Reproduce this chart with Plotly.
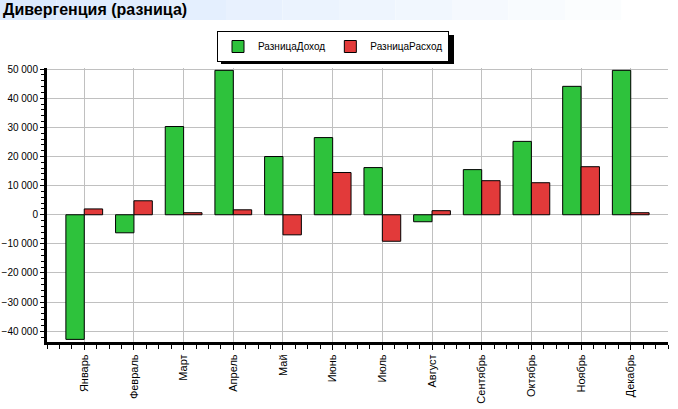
import plotly.graph_objects as go

months = ["Январь", "Февраль", "Март", "Апрель", "Май", "Июнь", "Июль",
          "Август", "Сентябрь", "Октябрь", "Ноябрь", "Декабрь"]
income_diff = [-42800, -6200, 30300, 49600, 20000, 26500, 16200, -2400, 15500, 25200, 44100, 49600]
expense_diff = [2000, 4800, 700, 1700, -6900, 14500, -9100, 1400, 11700, 11000, 16500, 700]
series_names = ["РазницаДоход", "РазницаРасход"]
title_text = "Дивергенция (разница)"

W, H = 678, 409
ML, MR, MT, MB = 47, 10, 68, 67
PW, PH = W - ML - MR, H - MT - MB

def px_x(p):
    return (p - ML) / PW

def px_y(p):
    return (H - MB - p) / PH

xs = list(range(len(months)))

fig = go.Figure()
fig.add_trace(go.Bar(x=xs, y=income_diff, name=series_names[0],
                     marker=dict(color="#2ec23c", line=dict(color="black", width=1))))
fig.add_trace(go.Bar(x=xs, y=expense_diff, name=series_names[1],
                     marker=dict(color="#e23a3a", line=dict(color="black", width=1))))

shapes = []
# title bar gradient (stepped)
steps = 12
c0 = (219, 234, 254)
c1 = (255, 255, 255)
for i in range(steps):
    t = i / (steps - 1)
    col = tuple(int(c0[k] + (c1[k] - c0[k]) * t) for k in range(3))
    shapes.append(dict(type="rect", xref="paper", yref="paper",
                       x0=px_x(W * i / steps), x1=px_x(W * (i + 1) / steps),
                       y0=px_y(20), y1=px_y(0), fillcolor="rgb(%d,%d,%d)" % col,
                       line=dict(width=0), layer="below"))
# legend shadow
shapes.append(dict(type="rect", xref="paper", yref="paper",
                   x0=px_x(221), x1=px_x(454), y0=px_y(64), y1=px_y(35),
                   fillcolor="black", line=dict(width=0), layer="below"))

fig.update_layout(
    width=W, height=H,
    margin=dict(l=ML, r=MR, t=MT, b=MB, autoexpand=False),
    paper_bgcolor="white", plot_bgcolor="white",
    separators=", ",
    barmode="group", bargap=0.26, bargroupgap=0,
    font=dict(family="Liberation Sans, Arial, sans-serif", size=11, color="black"),
    showlegend=True,
    legend=dict(orientation="h", x=px_x(333), xanchor="center", y=px_y(31), yanchor="top",
                bgcolor="white", bordercolor="black", borderwidth=1,
                font=dict(size=10), itemwidth=30, tracegroupgap=0),
    shapes=shapes,
    annotations=[dict(text="<b>" + title_text + "</b>", xref="paper", yref="paper",
                      x=px_x(1), y=px_y(10), xanchor="left", yanchor="middle",
                      showarrow=False, font=dict(size=16, color="black"))],
)
fig.update_xaxes(
    range=[-0.75, 11.75], tickmode="array", tickvals=xs, ticktext=months,
    tickangle=-90, showgrid=True, gridcolor="#c0c0c0", gridwidth=1,
    showline=True, linecolor="black", linewidth=3,
    ticks="outside", ticklen=5, tickcolor="black", tickwidth=1,
    minor=dict(tickmode="linear", tick0=0, dtick=0.25, ticks="outside", ticklen=4,
               tickcolor="black", showgrid=False),
    zeroline=False, fixedrange=True, automargin=False,
)
fig.update_yaxes(
    range=[-43700, 50400], tickmode="linear", tick0=0, dtick=10000, tickformat=",d",
    tickfont=dict(size=10),
    showgrid=True, gridcolor="#c0c0c0", gridwidth=1,
    showline=True, linecolor="black", linewidth=3,
    ticks="outside", ticklen=4, tickcolor="black", tickwidth=1,
    minor=dict(tickmode="linear", tick0=0, dtick=2000, ticks="outside", ticklen=3,
               tickcolor="black", showgrid=False),
    zeroline=False, fixedrange=True, automargin=False,
)

fig.write_html("out.html", config={"displayModeBar": False},
               post_script="document.body.style.margin='0';document.body.style.padding='0';")
